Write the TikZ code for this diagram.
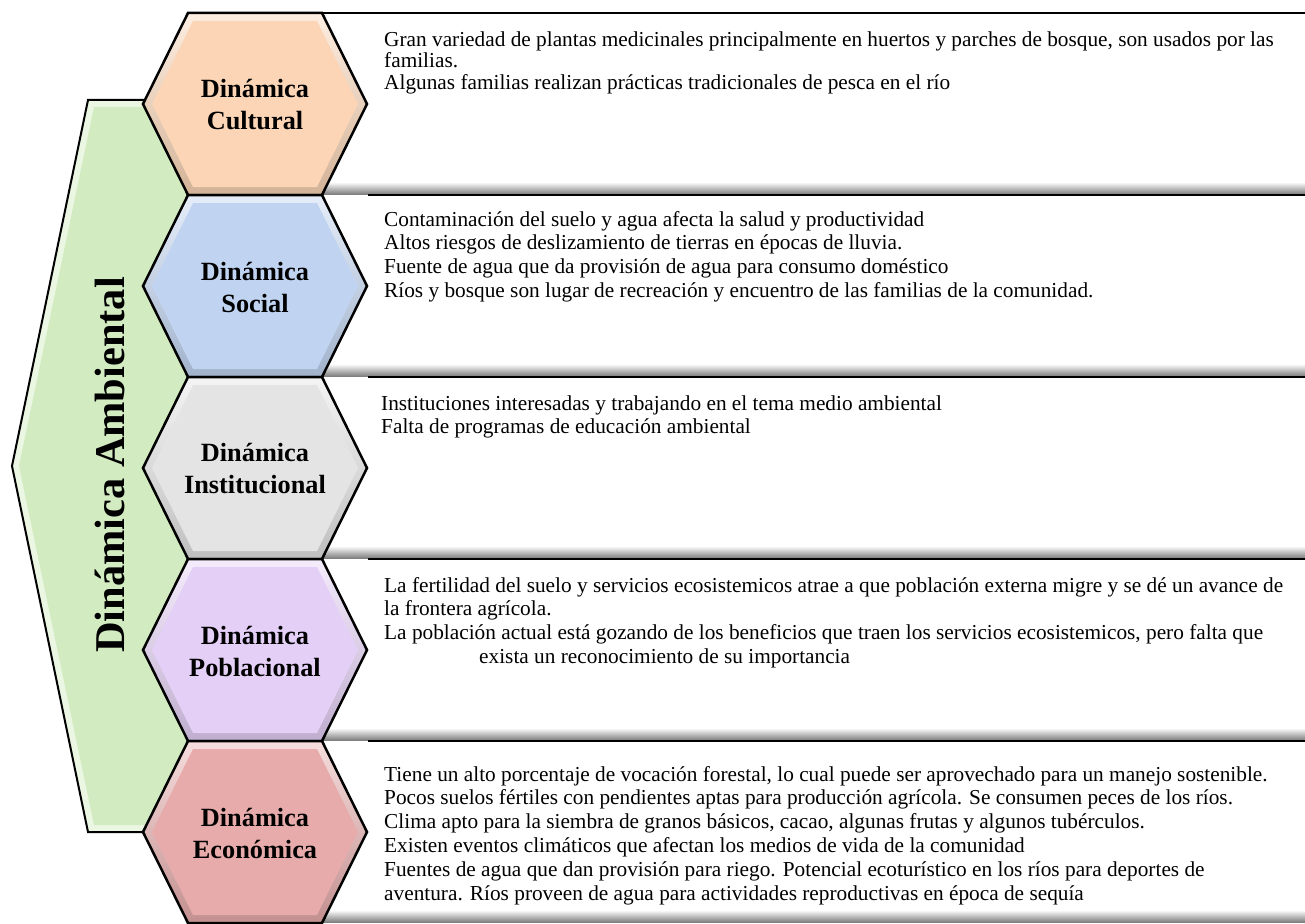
\documentclass[tikz,border=0pt]{standalone}
\usepackage{fontspec}
\setmainfont{Liberation Serif}

\definecolor{verde}{HTML}{D3EBC1}
\definecolor{cultural}{HTML}{FBD5B5}
\definecolor{social}{HTML}{C0D4F2}
\definecolor{institucional}{HTML}{E4E4E4}
\definecolor{poblacional}{HTML}{E4CFF6}
\definecolor{economica}{HTML}{E8ABAB}

\begin{document}
\begin{tikzpicture}[x=1pt, y=-1pt,
  hexouter/.style={insert path={(188,13) -- (322,13) -- (367,104) -- (322,195) -- (188,195) -- (143,104) -- cycle}},
  hexinner/.style={insert path={(193,21) -- (317,21) -- (358,104) -- (317,187) -- (193,187) -- (152,104) -- cycle}},
  bevel/.style={top color=#1!40!white, bottom color=#1!84!black},
  hexline/.style={draw=black, line width=2.5pt, line join=miter},
  hexlabel/.style={font=\bfseries\fontsize{26.3}{32}\selectfont, align=center},
  bodytext/.style={anchor=base west, inner sep=0pt, font=\fontsize{21.3}{23.8}\selectfont},
  boxshadow/.style={top color=white, bottom color=black!50},
  boxline/.style={line width=2.5pt}]

\clip (0,0) rectangle (1305,923);

% Green frame on the left
\fill[verde!45!white] (88,100) -- (12,466) -- (88,832) -- (255,832) -- (255,100) -- cycle;
\fill[verde] (94,107) -- (19,466) -- (94,825) -- (255,825) -- (255,107) -- cycle;
\draw[line width=2pt, line join=miter] (255,100) -- (88,100) -- (12,466) -- (88,832) -- (255,832);
\node[rotate=90, anchor=base, font=\bfseries\fontsize{42.4}{50}\selectfont] (ambiental) at (124,465) {Dinámica Ambiental};

% Boxes on the right
\draw[boxline] (250,13) -- (1320,13);
\shade[boxshadow] (250,182) rectangle (1320,194);
\draw[boxline] (368,195) -- (1320,195);
\shade[boxshadow] (250,364) rectangle (1320,376);
\draw[boxline] (368,377) -- (1320,377);
\shade[boxshadow] (250,546) rectangle (1320,558);
\draw[boxline] (368,559) -- (1320,559);
\shade[boxshadow] (250,728) rectangle (1320,740);
\draw[boxline] (368,741) -- (1320,741);
\shade[boxshadow] (250,910) rectangle (1320,922);

% Hexagons
\begin{scope}
  \shade[bevel=cultural, hexouter];
  \fill[cultural, hexinner];
  \draw[hexline, hexouter];
  \node[hexlabel] (cultural) at (255,105) {Dinámica\\Cultural};
\end{scope}
\begin{scope}[shift={(0,182)}]
  \shade[bevel=social, hexouter];
  \fill[social, hexinner];
  \draw[hexline, hexouter];
  \node[hexlabel] (social) at (255,105) {Dinámica\\Social};
\end{scope}
\begin{scope}[shift={(0,364)}]
  \shade[bevel=institucional, hexouter];
  \fill[institucional, hexinner];
  \draw[hexline, hexouter];
  \node[hexlabel] (institucional) at (255,105) {Dinámica\\Institucional};
\end{scope}
\begin{scope}[shift={(0,546)}]
  \shade[bevel=poblacional, hexouter];
  \fill[poblacional, hexinner];
  \draw[hexline, hexouter];
  \node[hexlabel] (poblacional) at (255,105) {Dinámica\\Poblacional};
\end{scope}
\begin{scope}[shift={(0,728)}]
  \shade[bevel=economica, hexouter];
  \fill[economica, hexinner];
  \draw[hexline, hexouter];
  \node[hexlabel] (economica) at (255,105) {Dinámica\\Económica};
\end{scope}

% Texts in the boxes
\node[bodytext] (culturaltxt) at (384,47) {\parbox[t]{950pt}{\raggedright
  Gran variedad de plantas medicinales principalmente en huertos y parches de bosque, son usados por las\\[-3pt]
  familias.\\[-2pt]
  Algunas familias realizan prácticas tradicionales de pesca en el río}};
\node[bodytext] (socialtxt) at (384,226) {\parbox[t]{950pt}{\raggedright
  Contaminación del suelo y agua afecta la salud y productividad\\
  Altos riesgos de deslizamiento de tierras en épocas de lluvia.\\
  Fuente de agua que da provisión de agua para consumo doméstico\\
  Ríos y bosque son lugar de recreación y encuentro de las familias de la comunidad.}};
\node[bodytext] (institucionaltxt) at (381,410) {\parbox[t]{950pt}{\raggedright
  Instituciones interesadas y trabajando en el tema medio ambiental\\
  Falta de programas de educación ambiental}};
\node[bodytext] (poblacionaltxt) at (384,592) {\parbox[t]{950pt}{\raggedright
  La fertilidad del suelo y servicios ecosistemicos atrae a que población externa migre y se dé un avance de\\
  la frontera agrícola.\\
  La población actual está gozando de los beneficios que traen los servicios ecosistemicos, pero falta que\\
  \hspace*{95pt}exista un reconocimiento de su importancia}};
\node[bodytext] (economicatxt) at (384,781) {\parbox[t]{950pt}{\raggedright
  Tiene un alto porcentaje de vocación forestal, lo cual puede ser aprovechado para un manejo sostenible.\\
  Pocos suelos fértiles con pendientes aptas para producción agrícola. Se consumen peces de los ríos.\\
  Clima apto para la siembra de granos básicos, cacao, algunas frutas y algunos tubérculos.\\
  Existen eventos climáticos que afectan los medios de vida de la comunidad\\
  Fuentes de agua que dan provisión para riego. Potencial ecoturístico en los ríos para deportes de\\
  aventura. Ríos proveen de agua para actividades reproductivas en época de sequía}};

\end{tikzpicture}
\end{document}
